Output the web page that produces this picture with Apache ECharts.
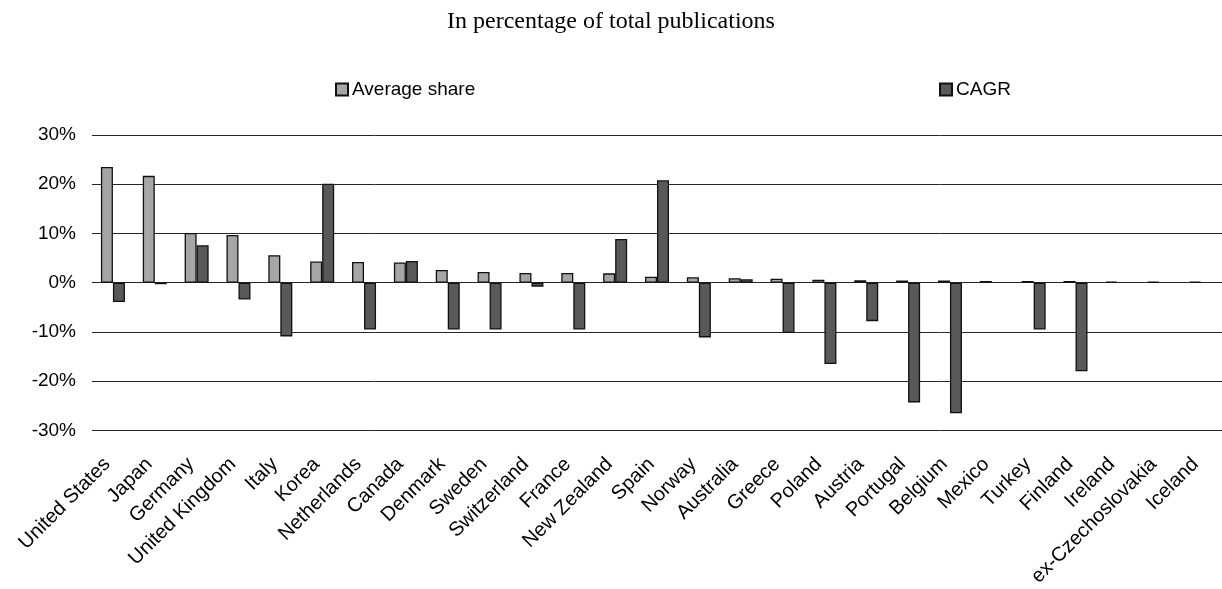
<!DOCTYPE html>
<html>
<head>
<meta charset="utf-8">
<script src="https://cdn.jsdelivr.net/npm/echarts@6/dist/echarts.min.js"></script>
<style>
  html, body { margin: 0; padding: 0; background: #ffffff; }
  #chart { width: 1222px; height: 589px; }
</style>
</head>
<body>
<div id="chart"></div>
<script>
// Countries, ordered by their average share of total publications
const categories = [
  'United States', 'Japan', 'Germany', 'United Kingdom', 'Italy', 'Korea',
  'Netherlands', 'Canada', 'Denmark', 'Sweden', 'Switzerland', 'France',
  'New Zealand', 'Spain', 'Norway', 'Australia', 'Greece', 'Poland',
  'Austria', 'Portugal', 'Belgium', 'Mexico', 'Turkey', 'Finland',
  'Ireland', 'ex-Czechoslovakia', 'Iceland'
];

// Average share of total publications (%)
const averageShare = [
  23.5, 21.7, 10.1, 9.7, 5.6, 4.3,
  4.2, 4.1, 2.6, 2.2, 2.0, 2.0,
  1.9, 1.2, 1.1, 0.9, 0.8, 0.6,
  0.5, 0.45, 0.45, 0.35, 0.35, 0.35,
  0.25, 0.2, 0.2
];

// Compound annual growth rate (%); no value for the last few countries
const cagr = [
  -3.9, -0.3, 7.6, -3.4, -10.9, 20.1,
  -9.5, 4.4, -9.5, -9.5, -0.8, -9.5,
  8.9, 20.8, -11.1, 0.7, -10.2, -16.5,
  -7.8, -24.3, -26.5, null, -9.5, -18.0,
  null, null, null
];

// Value axis ticks (%)
const yTicks = { min: -30, max: 30, step: 10 };

const sans = '"Liberation Sans", Arial, sans-serif';
const serif = '"Liberation Serif", "Times New Roman", serif';

const chart = echarts.init(document.getElementById('chart'), null, { renderer: 'canvas' });

chart.setOption({
  animation: false,
  backgroundColor: '#ffffff',
  title: {
    text: 'In percentage of total publications',
    left: 'center',
    top: 5,
    textStyle: { fontFamily: serif, fontSize: 24, fontWeight: 'normal', color: '#000' }
  },
  legend: [
    {
      data: ['Average share'],
      left: 330,
      top: 75,
      icon: 'rect',
      itemWidth: 12,
      itemHeight: 12,
      itemGap: 0,
      textStyle: { fontFamily: sans, fontSize: 19, color: '#000', padding: [0, 0, 0, -1] }
    },
    {
      data: ['CAGR'],
      left: 934,
      top: 75,
      icon: 'rect',
      itemWidth: 12,
      itemHeight: 12,
      itemGap: 0,
      textStyle: { fontFamily: sans, fontSize: 19, color: '#000', padding: [0, 0, 0, -1] }
    }
  ],
  grid: { left: 92, right: 0, top: 135, bottom: 157, containLabel: false },
  xAxis: {
    type: 'category',
    data: categories,
    axisLine: { show: false, onZero: false },
    axisTick: { show: false },
    splitLine: { show: false },
    axisLabel: {
      interval: 0,
      rotate: 45,
      margin: 25,
      padding: [0, 8, 0, 0],
      fontFamily: sans,
      fontSize: 20,
      color: '#000'
    }
  },
  yAxis: {
    type: 'value',
    min: yTicks.min,
    max: yTicks.max,
    interval: yTicks.step,
    axisLine: { show: false },
    axisTick: { show: false },
    axisLabel: {
      margin: 16,
      fontFamily: sans,
      fontSize: 19,
      color: '#000',
      formatter: '{value}%'
    },
    splitLine: { show: true, lineStyle: { color: '#262626', width: 1 } }
  },
  series: [
    {
      name: 'Average share',
      type: 'bar',
      data: averageShare,
      barWidth: 12,
      barGap: '0%',
      itemStyle: { color: '#a6a6a6', borderColor: '#111', borderWidth: 1.3 }
    },
    {
      name: 'CAGR',
      type: 'bar',
      data: cagr,
      barWidth: 12,
      barGap: '0%',
      itemStyle: { color: '#595959', borderColor: '#111', borderWidth: 1.3 }
    }
  ]
});
</script>
</body>
</html>
